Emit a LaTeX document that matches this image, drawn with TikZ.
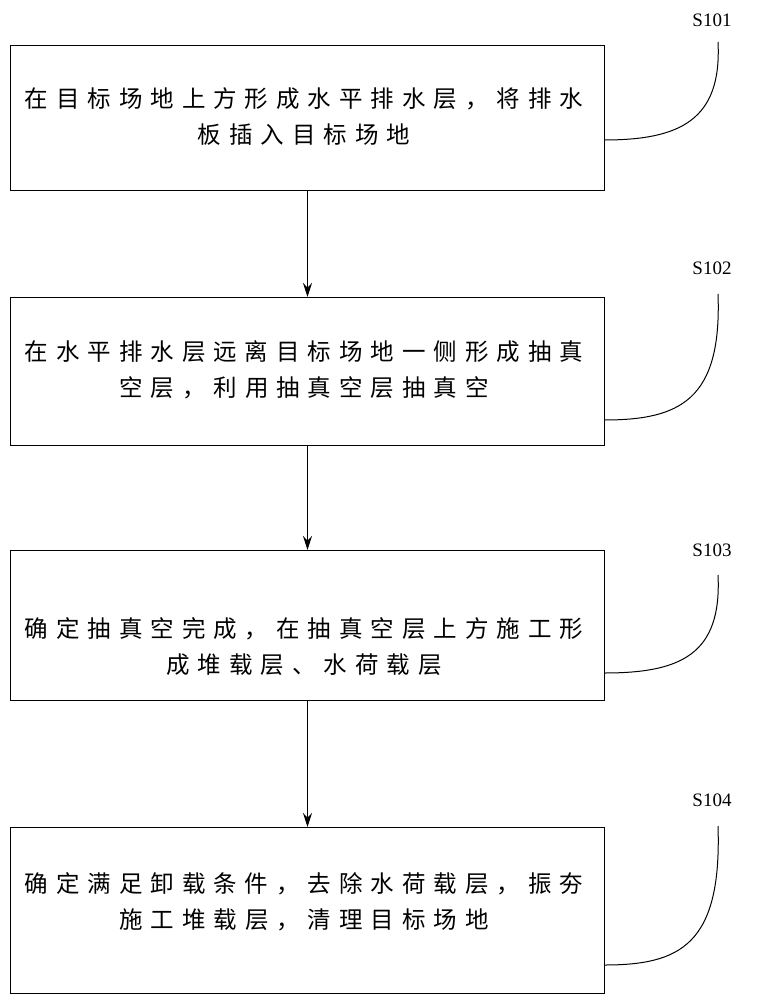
\documentclass[tikz,border=0pt]{standalone}
\usepackage{fontspec}
\usetikzlibrary{arrows.meta}
\setmainfont{Liberation Serif}
\newfontfamily\cjk{Noto Sans CJK SC}[LetterSpace=34]
\begin{document}
\begin{tikzpicture}[x=1pt,y=-1pt,
  box/.style={draw,line width=1pt},
  txt/.style={font=\cjk\fontsize{23.5}{36}\selectfont,align=center,inner sep=0},
  lab/.style={font=\fontsize{19}{22}\selectfont,inner sep=0},
  cur/.style={line width=1pt},
  arr/.style={-{Stealth[length=14pt,width=9pt]},line width=1pt}]
\useasboundingbox (0,0) rectangle (761,1000);
\node[box,minimum width=594,minimum height=145,anchor=north west] (b1) at (10,45) {};
\node[box,minimum width=594,minimum height=148,anchor=north west] (b2) at (10,297) {};
\node[box,minimum width=594,minimum height=150,anchor=north west] (b3) at (10,550) {};
\node[box,minimum width=594,minimum height=166,anchor=north west] (b4) at (10,827) {};
\node[txt] (t1) at (304,117) {在目标场地上方形成水平排水层，将排水\\板插入目标场地};
\node[txt] (t2) at (304,370) {在水平排水层远离目标场地一侧形成抽真\\空层，利用抽真空层抽真空};
\node[txt] (t3) at (304,647) {确定抽真空完成，在抽真空层上方施工形\\成堆载层、水荷载层};
\node[txt] (t4) at (304,902) {确定满足卸载条件，去除水荷载层，振夯\\施工堆载层，清理目标场地};
\draw[arr] (b1.south) -- (b2.north);
\draw[arr] (b2.south) -- (b3.north);
\draw[arr] (b3.south) -- (b4.north);
\node[lab] (l1) at (712,20) {S101};
\node[lab] (l2) at (712,268) {S102};
\node[lab] (l3) at (712,550) {S103};
\node[lab] (l4) at (712,800) {S104};
\coordinate (c1) at (604,140);
\coordinate (c2) at (604,420);
\coordinate (c3) at (604,673);
\coordinate (c4) at (604,965);
\draw[cur] (718,42) .. controls (722,120) and (680,140) .. (c1);
\draw[cur] (718,294) .. controls (722,400) and (680,420) .. (c2);
\draw[cur] (718,575) .. controls (722,655) and (680,673) .. (c3);
\draw[cur] (718,826) .. controls (722,945) and (680,965) .. (c4);
\end{tikzpicture}
\end{document}
